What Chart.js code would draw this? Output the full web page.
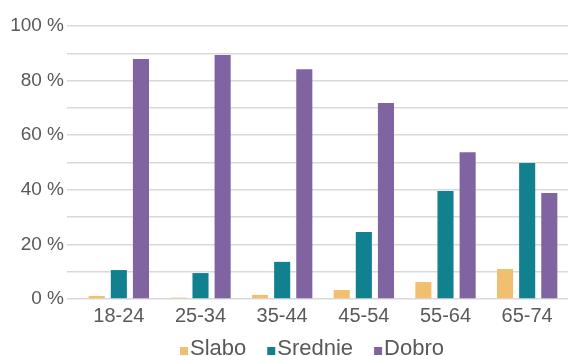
<!DOCTYPE html>
<html>
<head>
<meta charset="utf-8">
<script src="https://cdn.jsdelivr.net/npm/chart.js@4"></script>
<style>
  html, body { margin: 0; padding: 0; background: #fff; }
  #wrap { width: 568px; height: 356px; }
</style>
</head>
<body>
<div id="wrap"><canvas id="chart" width="568" height="356"></canvas></div>
<script>
'use strict';

// ── Data ─────────────────────────────────────────────
const ageGroups = ['18-24', '25-34', '35-44', '45-54', '55-64', '65-74'];
const slabo     = [1.1, 0.5, 1.5, 3.3, 6.2, 11.0];
const srednie   = [10.6, 9.5, 13.6, 24.5, 39.6, 49.8];
const dobro     = [87.9, 89.4, 84.2, 71.8, 53.8, 38.8];

const FONT = '"Liberation Sans", Arial, sans-serif';
const TEXT = '#595959';

// ── Excel-style legend: small square sitting on the baseline, tight text ──
const bottomLegend = {
    id: 'bottomLegend',
    afterDraw(chart) {
        const ctx = chart.ctx;
        const size = 22, box = 8, gap = 2, itemGap = 21;
        ctx.save();
        ctx.font = size + 'px ' + FONT;
        ctx.textBaseline = 'alphabetic';
        const items = chart.data.datasets.map(ds => ({
            label: ds.label, color: ds.backgroundColor,
            w: box + gap + ctx.measureText(ds.label).width,
        }));
        const total = items.reduce((s, it) => s + it.w, 0) + itemGap * (items.length - 1);
        const area = chart.chartArea;
        let x = (area.left + area.right) / 2 - 11 - total / 2;
        const baseline = 355;
        items.forEach(it => {
            ctx.fillStyle = it.color;
            ctx.fillRect(x, baseline - box, box, box);
            ctx.fillStyle = TEXT;
            ctx.fillText(it.label, x + box + gap, baseline);
            x += it.w + itemGap;
        });
        ctx.restore();
    },
};

new Chart(document.getElementById('chart').getContext('2d'), {
    type: 'bar',
    data: {
        labels: ageGroups,
        datasets: [
            { label: 'Slabo',   data: slabo,   backgroundColor: '#f0bf70' },
            { label: 'Srednie', data: srednie, backgroundColor: '#12818f' },
            { label: 'Dobro',   data: dobro,   backgroundColor: '#8064a2' },
        ],
    },
    plugins: [bottomLegend],
    options: {
        responsive: false,
        animation: false,
        categoryPercentage: 0.813,
        barPercentage: 0.727,
        layout: { padding: { top: 26, right: 0, left: 0, bottom: 0 } },
        plugins: {
            legend: { display: false },
            tooltip: { enabled: false },
        },
        scales: {
            x: {
                afterFit: s => { s.height = 57; },
                grid: { display: false },
                border: { display: false },
                ticks: { color: TEXT, font: { family: FONT, size: 20 }, padding: -3 },
            },
            y: {
                min: 0, max: 100,
                afterFit: s => { s.width = 78; },
                grid: { color: '#d9d9d9', lineWidth: 1.5, drawTicks: true, tickLength: 11 },
                border: { display: false },
                ticks: {
                    stepSize: 10,
                    color: TEXT,
                    font: { family: FONT, size: 19 },
                    padding: 3,
                    callback: v => (v % 20 === 0 ? v + ' %' : ''),
                },
            },
        },
    },
});
</script>
</body>
</html>
